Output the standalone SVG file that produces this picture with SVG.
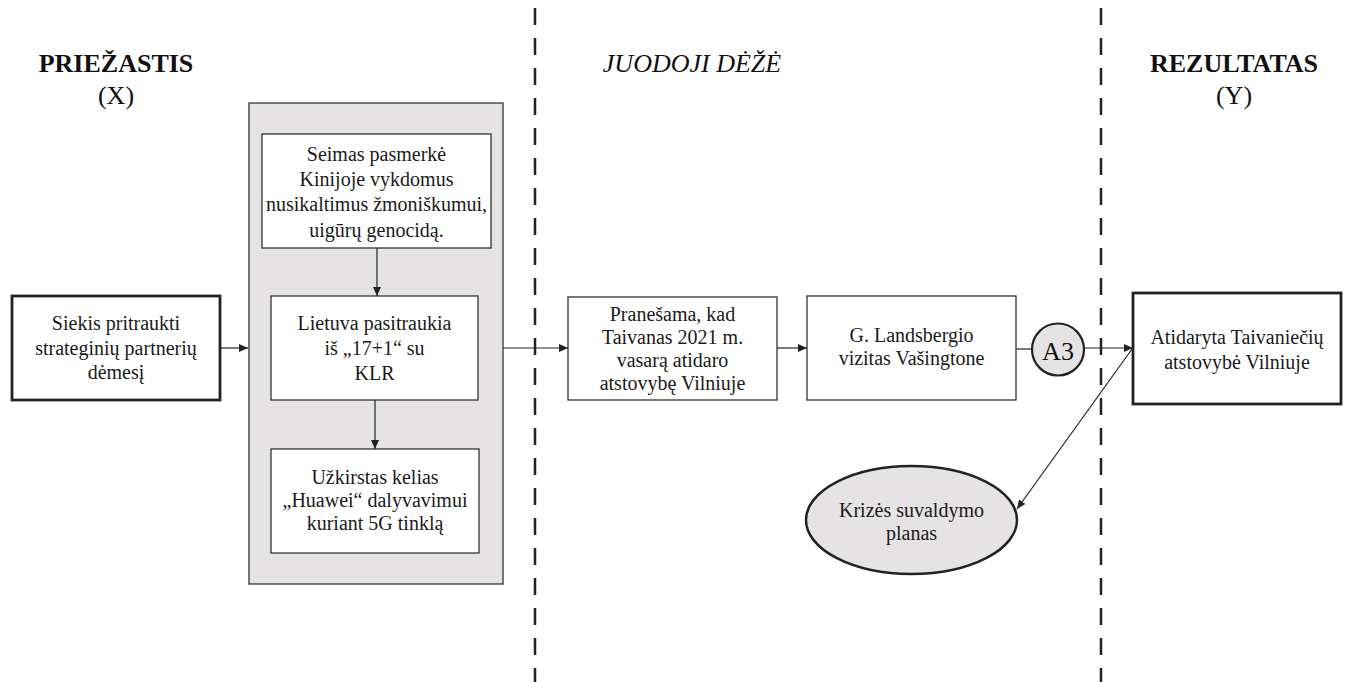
<svg xmlns="http://www.w3.org/2000/svg" width="1346" height="682" viewBox="0 0 1346 682">
<style>
.t{font-family:"Liberation Serif","Times New Roman",serif;font-size:20px;fill:#1a1a1a;text-anchor:middle}
.h{font-family:"Liberation Serif","Times New Roman",serif;font-size:26px;fill:#111;text-anchor:middle}
.box{fill:#fff;stroke:#333;stroke-width:1.3}
.tbox{fill:#fff;stroke:#222;stroke-width:2.8}
.gray{fill:#e5e3e4;stroke:#333;stroke-width:1.3}
.c{stroke:#222;stroke-width:1.2;fill:none}
.dash{stroke:#222;stroke-width:2.5;stroke-dasharray:17 13;fill:none}
</style>
<defs>
<marker id="ah" markerUnits="userSpaceOnUse" markerWidth="10" markerHeight="8" refX="9" refY="4" orient="auto">
<path d="M0,0 L9,4 L0,8 z" fill="#222"/>
</marker>
</defs>
<rect width="1346" height="682" fill="#fff"/>
<g id="dividers">
<line class="dash" x1="535" y1="8" x2="535" y2="682"/>
<line class="dash" x1="1101" y1="8" x2="1101" y2="682"/>
</g>
<g id="headers">
<text class="h" x="116" y="72" font-weight="bold">PRIEŽASTIS</text>
<text class="h" x="116" y="104">(X)</text>
<text class="h" x="692" y="72" font-style="italic">JUODOJI DĖŽĖ</text>
<text class="h" x="1234" y="72" font-weight="bold">REZULTATAS</text>
<text class="h" x="1234" y="104">(Y)</text>
</g>
<g id="container">
<rect class="gray" x="249" y="103" width="254" height="481"/>
</g>
<g id="n-siekis">
<rect class="tbox" x="12" y="296" width="208" height="104"/>
<text class="t" x="116" y="330">Siekis pritraukti</text>
<text class="t" x="116" y="355">strateginių partnerių</text>
<text class="t" x="116" y="379">dėmesį</text>
</g>
<g id="n-seimas">
<rect class="box" x="262" y="134" width="229" height="114"/>
<text class="t" x="376.5" y="161">Seimas pasmerkė</text>
<text class="t" x="376.5" y="186">Kinijoje vykdomus</text>
<text class="t" x="376.5" y="211">nusikaltimus žmoniškumui,</text>
<text class="t" x="376.5" y="237">uigūrų genocidą.</text>
</g>
<g id="n-lietuva">
<rect class="box" x="271" y="296" width="207" height="104"/>
<text class="t" x="374.5" y="330">Lietuva pasitraukia</text>
<text class="t" x="374.5" y="355">iš „17+1“ su</text>
<text class="t" x="374.5" y="380">KLR</text>
</g>
<g id="n-huawei">
<rect class="box" x="271" y="449" width="208" height="104"/>
<text class="t" x="375" y="484">Užkirstas kelias</text>
<text class="t" x="375" y="507">„Huawei“ dalyvavimui</text>
<text class="t" x="375" y="530">kuriant 5G tinklą</text>
</g>
<g id="n-pranesama">
<rect class="box" x="568" y="297" width="209" height="103"/>
<text class="t" x="672.5" y="321">Pranešama, kad</text>
<text class="t" x="672.5" y="344">Taivanas 2021 m.</text>
<text class="t" x="672.5" y="367">vasarą atidaro</text>
<text class="t" x="672.5" y="390">atstovybę Vilniuje</text>
</g>
<g id="n-landsbergis">
<rect class="box" x="807" y="296" width="209" height="104"/>
<text class="t" x="911.5" y="342">G. Landsbergio</text>
<text class="t" x="911.5" y="365">vizitas Vašingtone</text>
</g>
<g id="n-a3">
<circle cx="1058" cy="349.5" r="26" fill="#e5e3e4" stroke="#222" stroke-width="2.2"/>
<text class="h" x="1058" y="360" font-size="31">A3</text>
</g>
<g id="n-atidaryta">
<rect class="tbox" x="1133" y="293" width="208" height="111"/>
<text class="t" x="1237" y="344">Atidaryta Taivaniečių</text>
<text class="t" x="1237" y="369">atstovybė Vilniuje</text>
</g>
<g id="n-krize">
<ellipse cx="911.5" cy="520" rx="105.5" ry="54" fill="#e5e3e4" stroke="#222" stroke-width="2.5"/>
<text class="t" x="911.5" y="517">Krizės suvaldymo</text>
<text class="t" x="911.5" y="540">planas</text>
</g>
<g id="connectors">
<line class="c" x1="220" y1="348" x2="248" y2="348" marker-end="url(#ah)"/>
<line class="c" x1="377" y1="248" x2="377" y2="296" marker-end="url(#ah)"/>
<line class="c" x1="375" y1="400" x2="375" y2="449" marker-end="url(#ah)"/>
<line class="c" x1="503" y1="348" x2="568" y2="348" marker-end="url(#ah)"/>
<line class="c" x1="777" y1="348" x2="807" y2="348" marker-end="url(#ah)"/>
<line class="c" x1="1016" y1="349" x2="1032" y2="349"/>
<line class="c" x1="1084" y1="348" x2="1133" y2="348" marker-end="url(#ah)"/>
<line class="c" x1="1132" y1="349" x2="1017" y2="509" marker-end="url(#ah)"/>
</g>
</svg>
